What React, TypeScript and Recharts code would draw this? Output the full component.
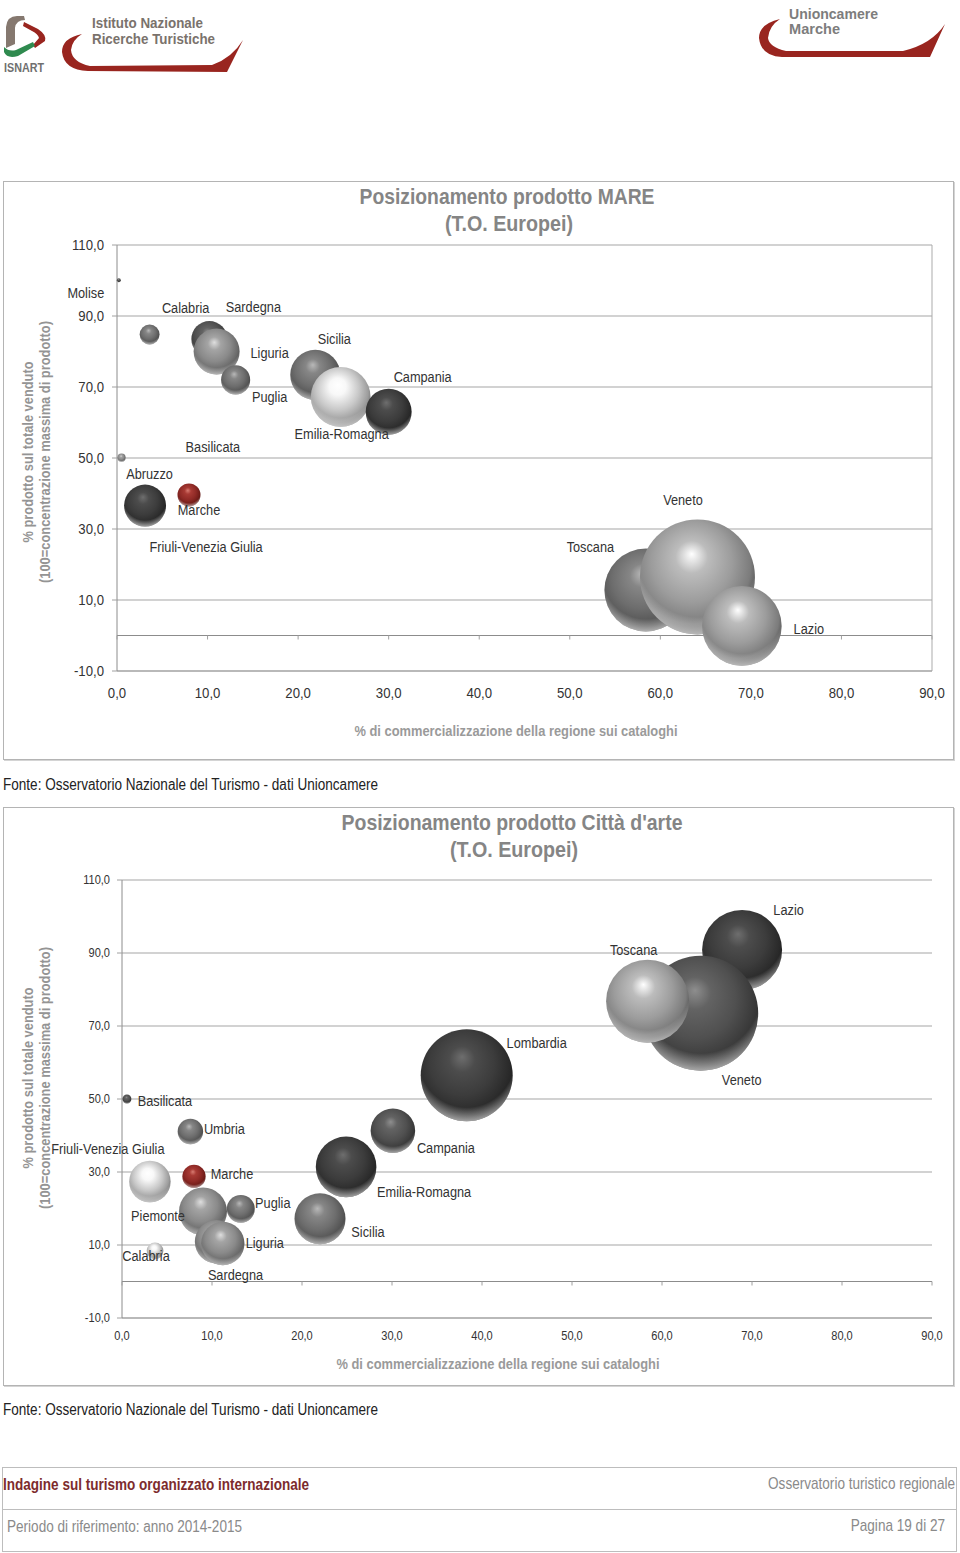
import React from 'react';
import { ScatterChart, Scatter, XAxis, YAxis, ZAxis, CartesianGrid, ReferenceLine } from 'recharts';

const xTicks = [0, 10, 20, 30, 40, 50, 60, 70, 80, 90];
const yTicks = [-10, 10, 30, 50, 70, 90, 110];

// first chart, order is the paint order
const mareRegions = ['Molise', 'Calabria', 'Sardegna', 'Liguria', 'Puglia', 'Sicilia', 'Emilia-Romagna', 'Campania', 'Abruzzo', 'Basilicata', 'Friuli-Venezia Giulia', 'Marche', 'Toscana', 'Veneto', 'Lazio'];
const mareX = [0.2, 3.6, 10.2, 11.0, 13.1, 21.9, 24.7, 30.0, 0.5, 8.6, 3.1, 7.95, 58.4, 64.1, 69.0];
const mareY = [100.1, 84.8, 83.5, 80.0, 72.0, 73.4, 67.2, 63.0, 50.1, 53.0, 36.6, 39.6, 12.8, 16.5, 2.7];
const mareZ = [0.12, 3.0, 9.8, 16.0, 6.4, 19.0, 27.0, 16.0, 0.5, 0, 13.3, 4.0, 52.0, 100.0, 48.0];

// second chart
const arteRegions = ['Basilicata', 'Umbria', 'Friuli-Venezia Giulia', 'Marche', 'Piemonte', 'Puglia', 'Sardegna', 'Liguria', 'Calabria', 'Sicilia', 'Emilia-Romagna', 'Campania', 'Lombardia', 'Lazio', 'Veneto', 'Toscana'];
const arteX = [0.55, 7.6, 3.1, 8.0, 9.0, 13.2, 10.5, 11.2, 3.67, 22.0, 24.9, 30.1, 38.3, 68.9, 64.3, 58.4];
const arteY = [50.0, 41.1, 27.4, 28.8, 19.2, 19.9, 10.9, 10.4, 8.4, 17.2, 31.4, 41.3, 56.5, 90.8, 73.5, 76.8];
const arteZ = [0.6, 4.9, 13.0, 4.1, 17.4, 5.9, 14.2, 14.2, 2.1, 19.7, 27.8, 15.0, 64.0, 48.4, 100.0, 52.1];

const maxBubbleRadius = 57.5;

type Tone = 'black' | 'dark' | 'mid' | 'light' | 'silver' | 'white' | 'red';

// highlight, inner, body, shade, edge
const TONE_STOPS: Record<Tone, string[]> = {
  black: ['#6e6e6e', '#4c4c4c', '#3c3c3c', '#2a2a2a', '#1a1a1a'],
  dark: ['#8e8e8e', '#636363', '#505050', '#3a3a3a', '#262626'],
  mid: ['#b8b8b8', '#868686', '#6e6e6e', '#555555', '#383838'],
  light: ['#dedede', '#a4a4a4', '#8a8a8a', '#6a6a6a', '#404040'],
  silver: ['#ffffff', '#bcbcbc', '#9c9c9c', '#7c7c7c', '#3a3a3a'],
  white: ['#ffffff', '#f8f8f8', '#c8c8c8', '#9c9c9c', '#5a5a5a'],
  red: ['#d87c72', '#a83a34', '#8f2a26', '#701c18', '#4a0f0d'],
};

const MARE_TONE: Record<string, Tone> = {
  Molise: 'dark', Calabria: 'mid', Sardegna: 'dark', Liguria: 'light', Puglia: 'mid', Sicilia: 'mid',
  'Emilia-Romagna': 'white', Campania: 'black', Abruzzo: 'light', Basilicata: 'mid', 'Friuli-Venezia Giulia': 'black',
  Marche: 'red', Toscana: 'mid', Veneto: 'silver', Lazio: 'silver',
};
const ARTE_TONE: Record<string, Tone> = {
  Basilicata: 'dark', Umbria: 'mid', 'Friuli-Venezia Giulia': 'white', Marche: 'red', Piemonte: 'light', Puglia: 'mid',
  Sardegna: 'light', Liguria: 'light', Calabria: 'white', Sicilia: 'mid', 'Emilia-Romagna': 'black', Campania: 'dark',
  Lombardia: 'black', Lazio: 'black', Veneto: 'dark', Toscana: 'silver',
};

// label position relative to the bubble centre, px
const MARE_LABEL: Record<string, [number, number]> = {
  Molise: [-33, 12.5], Calabria: [36, -27], Sardegna: [44, -32.5], Liguria: [53, 1.5], Puglia: [34, 16.5], Sicilia: [19, -36.5],
  'Emilia-Romagna': [1, 36.5], Campania: [34, -35.5], Abruzzo: [28, 16], Basilicata: [18, -0.5], 'Friuli-Venezia Giulia': [61, 41],
  Marche: [10, 14.5], Toscana: [-55.5, -43.5], Veneto: [-14.5, -77.5], Lazio: [67, 2.5],
};
const ARTE_LABEL: Record<string, [number, number]> = {
  Basilicata: [38, 2], Umbria: [34, -3], 'Friuli-Venezia Giulia': [-42, -33], Marche: [38, -3], Piemonte: [-45, 4], Puglia: [32, -6],
  Sardegna: [19, 33], Liguria: [42, -1], Calabria: [-9, 5], Sicilia: [48, 13], 'Emilia-Romagna': [78, 25], Campania: [53, 17],
  Lombardia: [70, -33], Lazio: [46.5, -40], Veneto: [41, 66], Toscana: [-14, -52],
};

const FONT = '"Liberation Sans", Arial, sans-serif';
const fmt = (v: number) => v.toFixed(1).replace('.', ',');

const buildRows = (names: string[], xs: number[], ys: number[], zs: number[]) =>
  names.map((name, i) => ({ name, x: xs[i], y: ys[i], z: zs[i] }));

// text squeezed horizontally like the scanned original
function Squeezed({ x, y, size, anchor = 'middle', fill = '#333', sx = 0.85, children }: any) {
  return (
    <text
      transform={`translate(${x} ${y}) scale(${sx} 1)`}
      textAnchor={anchor}
      dominantBaseline="central"
      fontFamily={FONT}
      fontSize={size}
      fill={fill}
    >
      {children}
    </text>
  );
}

// fixed width text, used for strings whose width was measured on the picture
function Fitted({ x, y, w, size, anchor = 'start', fill = '#333', bold = false, rotate, children }: any) {
  return (
    <text
      x={rotate ? 0 : x}
      y={rotate ? 0 : y}
      transform={rotate ? `translate(${x} ${y}) rotate(${rotate})` : undefined}
      textLength={w}
      lengthAdjust="spacingAndGlyphs"
      textAnchor={anchor}
      dominantBaseline="central"
      fontFamily={FONT}
      fontSize={size}
      fontWeight={bold ? 'bold' : 'normal'}
      fill={fill}
    >
      {children}
    </text>
  );
}

function Gradients() {
  return (
    <defs>
      {(Object.keys(TONE_STOPS) as Tone[]).map((t) => (
        <radialGradient key={t} id={`ball-${t}`} cx="0.45" cy="0.42" r="0.64" fx="0.45" fy="0.3">
          <stop offset="0" stopColor={TONE_STOPS[t][0]} />
          <stop offset="0.22" stopColor={TONE_STOPS[t][1]} />
          <stop offset="0.55" stopColor={TONE_STOPS[t][2]} />
          <stop offset="0.8" stopColor={TONE_STOPS[t][3]} />
          <stop offset="1" stopColor={TONE_STOPS[t][4]} />
        </radialGradient>
      ))}
      {/* pale rim along the underside of each sphere */}
      <radialGradient id="ball-rim" cx="0.5" cy="0.33" r="0.7">
        <stop offset="0.74" stopColor="#fff" stopOpacity="0" />
        <stop offset="1" stopColor="#fff" stopOpacity="0.7" />
      </radialGradient>
    </defs>
  );
}

function PositionChart({ rows, tones, labels, width, height, margin, title, titleBox, xTitle, yTitleX, yTitleY, tickSize, yTickGap, xTickY, rightBorder }: any) {
  const ball = (p: any) => {
    const r = p.width / 2;
    if (!(r > 0)) return <g />;
    return (
      <g>
        <circle cx={p.cx} cy={p.cy} r={r} fill={`url(#ball-${tones[p.payload.name]})`} />
        <circle cx={p.cx} cy={p.cy} r={r} fill="url(#ball-rim)" />
      </g>
    );
  };
  const tag = (p: any) => {
    const [dx, dy] = labels[p.payload.name];
    return <Squeezed x={p.cx + dx} y={p.cy + dy} size={15}>{p.payload.name}</Squeezed>;
  };
  const xTick = (p: any) => (
    <Squeezed x={p.x} y={xTickY} size={tickSize}>{fmt(p.payload.value)}</Squeezed>
  );
  const yTick = (p: any) => (
    <Squeezed x={p.x - yTickGap} y={p.y} size={tickSize} anchor="end">{fmt(p.payload.value)}</Squeezed>
  );
  const mark = (p: any) => <line x1={p.cx} x2={p.cx} y1={p.cy} y2={p.cy + 4} stroke="#a0a0a0" />;

  return (
    <ScatterChart width={width} height={height} margin={margin}>
      <Gradients />
      <CartesianGrid vertical={false} stroke="#a6a6a6" strokeWidth={1.2} />
      <XAxis type="number" dataKey="x" domain={[0, 90]} ticks={xTicks} tick={xTick} tickLine={false} axisLine={{ stroke: '#a0a0a0', strokeWidth: 1.2 }} height={40} interval={0} />
      <YAxis type="number" dataKey="y" domain={[-10, 110]} ticks={yTicks} tick={yTick} tickLine={{ stroke: '#a0a0a0' }} tickSize={5} axisLine={{ stroke: '#8c8c8c' }} width={60} interval={0} />
      <ZAxis type="number" dataKey="z" domain={[0, 100]} range={[0, Math.PI * maxBubbleRadius * maxBubbleRadius]} />
      <ReferenceLine y={0} stroke="#8c8c8c" strokeWidth={1.2} />
      {rightBorder && <ReferenceLine x={90} stroke="#ababab" />}
      <Scatter data={xTicks.map((x) => ({ x, y: 0, z: 1 }))} shape={mark} isAnimationActive={false} />
      <Scatter data={rows} shape={ball} isAnimationActive={false} />
      <Scatter data={rows} shape={tag} isAnimationActive={false} />
      {title.map((t: string, i: number) => (
        <Fitted key={t} x={titleBox[i][0]} y={titleBox[i][1]} w={titleBox[i][2]} size={22} anchor="middle" bold fill="#858585">{t}</Fitted>
      ))}
      <Fitted x={xTitle[0]} y={xTitle[1]} w={323} size={15} anchor="middle" bold fill="#9a9a9a">% di commercializzazione della regione sui cataloghi</Fitted>
      <Fitted x={yTitleX[0]} y={yTitleY} w={181} size={15} anchor="middle" bold fill="#949494" rotate={-90}>% prodotto sul totale venduto</Fitted>
      <Fitted x={yTitleX[1]} y={yTitleY} w={262} size={15} anchor="middle" bold fill="#949494" rotate={-90}>(100=concentrazione massima di prodotto)</Fitted>
    </ScatterChart>
  );
}

function PageFurniture() {
  const red = '#99251f';
  return (
    <svg width={960} height={1553} style={{ position: 'absolute', left: 0, top: 0 }}>
      {/* ISNART emblem */}
      <path d="M6 48 L6 27 Q7 16 17 16 L24 16 L25 20 Q16 20 15 28 L15 44 Z" fill="#85786f" />
      <path d="M24 22 L38 29 Q47 35 45 41 L35 48 L33 45 L39 38 Q38 34 32 31 L23 26 Z" fill={red} />
      <path d="M4 47 Q9 52 16 50 L33 42 L35 46 L18 56 Q7 59 4 52 Z" fill="#2f8a4f" />
      <Fitted x={4} y={67} w={40} size={13} bold fill="#6f6f6f">ISNART</Fitted>
      <Fitted x={92} y={22} w={111} size={15} bold fill="#7a726c">Istituto Nazionale</Fitted>
      <Fitted x={92} y={38} w={123} size={15} bold fill="#7a726c">Ricerche Turistiche</Fitted>
      <path d="M82 34 Q62 38 62 52 Q64 70 88 71 L227 72 L243 40 Q232 58 212 65 L90 66 Q72 62 71 50 Q72 40 82 34 Z" fill={red} />
      {/* Unioncamere logo */}
      <Fitted x={789} y={13} w={89} size={15} bold fill="#7d7d7d">Unioncamere</Fitted>
      <Fitted x={789} y={28} w={51} size={15} bold fill="#7d7d7d">Marche</Fitted>
      <path d="M780 19 Q759 24 759 38 Q761 56 782 57 L930 57 L945 24 Q932 44 903 51 L786 51 Q769 47 768 38 Q769 26 780 19 Z" fill={red} />
      <Fitted x={3} y={784} w={375} size={16} fill="#222">Fonte: Osservatorio Nazionale del Turismo - dati Unioncamere</Fitted>
      <Fitted x={3} y={1409} w={375} size={16} fill="#222">Fonte: Osservatorio Nazionale del Turismo - dati Unioncamere</Fitted>
      {/* footer box */}
      <rect x={2.5} y={1467.5} width={954} height={84} fill="none" stroke="#bdbdbd" />
      <line x1={2.5} x2={956.5} y1={1509.5} y2={1509.5} stroke="#bdbdbd" />
      <Fitted x={3} y={1484} w={306} size={16} bold fill="#7d2b2d">Indagine sul turismo organizzato internazionale</Fitted>
      <Squeezed x={955} y={1484} size={16} sx={0.848} anchor="end" fill="#8a8a8a">Osservatorio turistico regionale</Squeezed>
      <Fitted x={7} y={1526} w={235} size={16} fill="#8a8a8a">Periodo di riferimento: anno 2014-2015</Fitted>
      <Squeezed x={945} y={1526} size={16} sx={0.848} anchor="end" fill="#8a8a8a">Pagina 19 di 27</Squeezed>
    </svg>
  );
}

const frameStyle = (top: number): React.CSSProperties => ({
  position: 'absolute',
  left: 3,
  top,
  width: 949,
  height: 577,
  border: '1px solid #b4b4b4',
  boxShadow: '1px 1px 0 #d4d4d4',
});

export default function App() {
  return (
    <div style={{ position: 'absolute', left: 0, top: 0, width: 960, height: 1553, background: '#fff', overflow: 'hidden' }}>
      <PageFurniture />
      <div style={frameStyle(181)}>
        <div style={{ position: 'absolute', left: -1, top: -1 }}>
          <PositionChart
            rows={buildRows(mareRegions, mareX, mareY, mareZ)}
            tones={MARE_TONE}
            labels={MARE_LABEL}
            width={951}
            height={579}
            margin={{ top: 64, right: 22, bottom: 49, left: 54 }}
            title={['Posizionamento prodotto MARE', '(T.O. Europei)']}
            titleBox={[[504, 15, 295], [506, 42, 128]]}
            xTitle={[513, 549]}
            yTitleX={[24, 41]}
            yTitleY={271}
            tickSize={15.5}
            yTickGap={6}
            xTickY={512}
            rightBorder
          />
        </div>
      </div>
      <div style={frameStyle(807)}>
        <div style={{ position: 'absolute', left: -1, top: -1 }}>
          <PositionChart
            rows={buildRows(arteRegions, arteX, arteY, arteZ)}
            tones={ARTE_TONE}
            labels={ARTE_LABEL}
            width={951}
            height={579}
            margin={{ top: 73, right: 22, bottom: 28, left: 59 }}
            title={["Posizionamento prodotto Città d'arte", '(T.O. Europei)']}
            titleBox={[[509, 15, 341], [511, 42, 128]]}
            xTitle={[495, 556]}
            yTitleX={[24, 41]}
            yTitleY={271}
            tickSize={13}
            yTickGap={5}
            xTickY={529}
          />
        </div>
      </div>
    </div>
  );
}
